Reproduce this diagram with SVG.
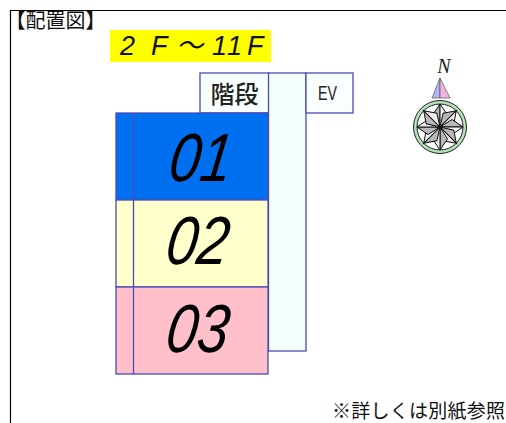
<svg xmlns="http://www.w3.org/2000/svg" width="506" height="423" viewBox="0 0 506 423">
<defs><style>
.l{stroke:#4a4ab8;stroke-width:1.300}
.s{font-family:"Liberation Sans","Noto Sans CJK JP",sans-serif}
.j{font-family:"Noto Sans CJK JP",sans-serif}
.n{font-family:"Liberation Sans",sans-serif;font-style:italic;font-size:68px;text-anchor:middle}
</style>
<g id="petal"><path d="M0 0L-7.500 -12L0 -23Z" fill="#b8b8b8" stroke="#111" stroke-width="1"/><path d="M0 0L7.500 -12L0 -23Z" fill="#eeeeee" stroke="#111" stroke-width="1"/></g>
</defs>
<rect width="506" height="423" fill="#fff"/>
<path d="M10.500 423V10.500H506" fill="none" stroke="#000" stroke-width="1.200"/>
<text class="j" x="5.500" y="27.500" font-size="20" fill="#111">【配置図】</text>
<g id="floor"><rect x="110" y="30" width="161" height="32" fill="#ffff00"/>
<text class="s" y="55" font-size="27" font-style="italic" fill="#111" x="120 140 151 176 212 227 240 247">2 F～11 F</text></g>
<g id="stairs"><rect class="l" x="200" y="73" width="69" height="40" fill="#f8fffe"/><text class="j" x="234.500" y="103" font-size="24" font-weight="500" text-anchor="middle" fill="#222">階段</text></g>
<g id="corridor"><rect class="l" x="268.500" y="73" width="37.500" height="278" fill="#f3fffd"/></g>
<g id="ev"><rect class="l" x="306" y="73" width="47" height="40" fill="#f8fffe"/><text class="s" x="318" y="100" font-size="21" fill="#222" textLength="19" lengthAdjust="spacingAndGlyphs">EV</text></g>
<g id="unit01"><rect class="l" x="116" y="113" width="152" height="87" fill="#0070f0"/><path class="l" d="M133.500 113V200"/><text class="n" transform="translate(198 181) skewX(-8) scale(.82 1)">01</text></g>
<g id="unit02"><rect class="l" x="116" y="200" width="152" height="87" fill="#ffffcc"/><path class="l" d="M133.500 200V287"/><text class="n" transform="translate(195 264) skewX(-8) scale(.82 1)">02</text></g>
<g id="unit03"><rect class="l" x="116" y="287" width="152" height="87" fill="#ffc0cb"/><path class="l" d="M133.500 287V374"/><text class="n" transform="translate(195 352) skewX(-8) scale(.82 1)">03</text></g>
<g id="compass">
<text x="444" y="73" font-family="Liberation Serif,serif" font-style="italic" font-size="20" text-anchor="middle" fill="#222">N</text>
<path d="M432 98L440 78V98Z" fill="#b4b4f0" stroke="#555" stroke-width=".7"/><path d="M440 78L450 98H440Z" fill="#f0b4e0" stroke="#555" stroke-width=".7"/>
<circle cx="440" cy="127" r="26.500" fill="#b4e4b8" stroke="#222" stroke-width="1"/><circle cx="440" cy="127" r="23" fill="#fff" stroke="#222" stroke-width="1"/>
<use href="#petal" transform="translate(440 127)"/><use href="#petal" transform="translate(440 127) rotate(45)"/><use href="#petal" transform="translate(440 127) rotate(90)"/><use href="#petal" transform="translate(440 127) rotate(135)"/><use href="#petal" transform="translate(440 127) rotate(180)"/><use href="#petal" transform="translate(440 127) rotate(225)"/><use href="#petal" transform="translate(440 127) rotate(270)"/><use href="#petal" transform="translate(440 127) rotate(315)"/>
<circle cx="440" cy="127" r="2.500" fill="#111"/></g>
<text class="j" x="332" y="418" font-size="19" fill="#111" textLength="173">※詳しくは別紙参照</text>
</svg>
